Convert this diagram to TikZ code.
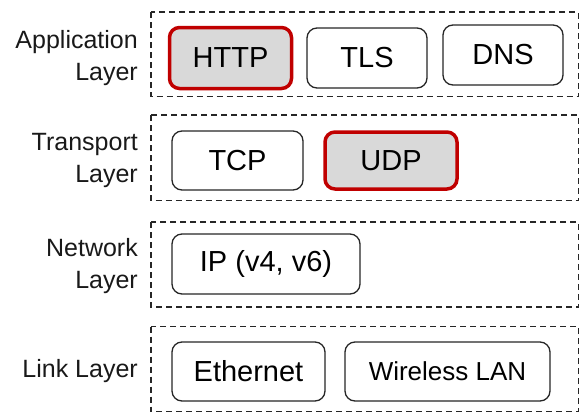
\documentclass[tikz,border=0pt]{standalone}
\usepackage{fontspec}
\setmainfont{Liberation Sans}
\definecolor{hlred}{RGB}{192,0,0}
\definecolor{hlgray}{RGB}{217,217,217}
\tikzset{
  layerbox/.style={draw=black!85, line width=1.4pt, dash pattern=on 6pt off 4pt},
  proto/.style={draw=black!85, line width=1.3pt, rounded corners=10pt, fill=white,
    inner sep=0pt, font=\fontsize{29}{34}\selectfont},
  hl/.style={draw=hlred, line width=3.5pt, fill=hlgray},
  layername/.style={anchor=east, align=right, inner sep=0pt,
    font=\fontsize{25}{32}\selectfont, text=black!90}
}
\begin{document}
\begin{tikzpicture}[x=1pt,y=-1pt]
  \useasboundingbox (0,0) rectangle (579,413);

  % layer frames (right edge runs up to the page border)
  \draw[layerbox] (151,12) rectangle (578.5,96.5);
  \draw[layerbox] (151,115) rectangle (578.5,200.5);
  \draw[layerbox] (151,222) rectangle (578.5,307);
  \draw[layerbox] (151,326.5) rectangle (578.5,411.5);

  % layer names
  \node[layername] (lapp) at (138,58) {Application\\Layer};
  \node[layername] (ltra) at (138,160) {Transport\\Layer};
  \node[layername] (lnet) at (138,266) {Network\\Layer};
  \node[layername] (llnk) at (138,371) {Link Layer};

  % application layer
  \node[proto, hl, minimum width=122pt, minimum height=61pt] (http) at (230.5,58) {HTTP};
  \node[proto, minimum width=120pt, minimum height=60pt] (tls) at (367,58) {TLS};
  \node[proto, minimum width=120pt, minimum height=60pt] (dns) at (503,55) {DNS};

  % transport layer
  \node[proto, minimum width=131pt, minimum height=59pt] (tcp) at (237.5,160.5) {TCP};
  \node[proto, hl, minimum width=132pt, minimum height=57pt] (udp) at (391,160.5) {UDP};

  % network layer
  \node[proto, minimum width=188pt, minimum height=60pt] (ip) at (266,264) {IP (v4, v6)};

  % link layer
  \node[proto, minimum width=153pt, minimum height=59pt] (eth) at (248.5,371.5) {Ethernet};
  \node[proto, minimum width=205pt, minimum height=59pt,
        font=\fontsize{26}{30}\selectfont] (wlan) at (447.5,371.5) {Wireless LAN};
\end{tikzpicture}
\end{document}
